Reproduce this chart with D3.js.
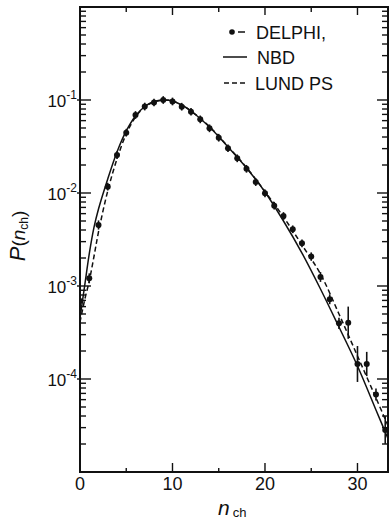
<!DOCTYPE html>
<html>
<head>
<meta charset="utf-8">
<script src="https://cdn.jsdelivr.net/npm/d3@7/dist/d3.min.js"></script>
<style>
  html, body { margin: 0; padding: 0; background: #fff; }
  svg text { font-family: "Liberation Sans", Arial, Helvetica, sans-serif; fill: #111; }
</style>
</head>
<body>
<svg id="chart" width="389" height="525"></svg>
<script>
// Charged multiplicity distribution P(n_ch): DELPHI data, NBD fit and LUND PS.
const nValues = [0,1,2,3,4,5,6,7,8,9,10,11,12,13,14,15,16,17,18,19,20,21,22,23,24,25,26,27,28,29,30,31,32,33];
const delphiP = [6.9e-4,1.21e-3,4.53e-3,0.0117,0.0256,0.0445,0.069,0.085,0.094,0.100,0.0964,0.0847,0.0748,0.0619,0.0496,0.0393,0.0303,0.0236,0.0182,0.0131,0.00993,0.0073,0.00566,0.00407,0.00288,0.00207,0.00125,0.00072,3.97e-4,4.03e-4,1.45e-4,1.45e-4,6.8e-5,2.83e-5];
// multiplicative error (bar runs from P/f to P*f)
const delphiErr = [1.19,1.13,1.12,1.10,1.10,1.10,1.10,1.10,1.10,1.10,1.10,1.10,1.10,1.10,1.10,1.10,1.10,1.10,1.10,1.10,1.10,1.10,1.10,1.10,1.10,1.11,1.13,1.13,1.15,1.49,1.56,1.35,1.16,1.41];

const nbdN = [0,0.5,1,1.5,2,3,4,5,6,7,8,9,10,11,12,14,16,18,20,22,24,26,28,30,32,33.5];
const nbdP = [4.53e-4,1.0e-3,2.21e-3,4.21e-3,6.73e-3,0.01416,0.0276,0.0465,0.0673,0.0851,0.0964,0.100,0.0976,0.0883,0.0762,0.0513,0.0313,0.0186,0.01026,0.0050,0.00226,9.29e-4,3.62e-4,1.38e-4,4.65e-5,2.05e-5];

const lundN = [0,0.5,1,1.5,2,3,4,5,6,7,8,9,10,11,12,14,16,18,20,22,24,26,28,30,32,33.5];
const lundP = [4.10e-4,7.06e-4,1.13e-3,2.05e-3,3.81e-3,0.01052,0.0232,0.0431,0.0656,0.0841,0.0952,0.100,0.0976,0.0883,0.0762,0.0519,0.0316,0.0188,0.01038,0.00552,0.00276,0.001346,5.0e-4,1.77e-4,6.25e-5,2.83e-5];

const yMajorTicks = [1e-1, 1e-2, 1e-3, 1e-4];
const yTickExponents = ["-1", "-2", "-3", "-4"];
const xMajorTicks = [0, 10, 20, 30];
const xMinorTicks = [5, 15, 25];
const legendLabels = ["DELPHI,", "NBD", "LUND PS"];

const svg = d3.select("#chart");
const pLeft = 80, pRight = 388, pTop = 7, pBottom = 472;

const x = d3.scaleLinear().domain([0, 33.3]).range([pLeft, pRight]);
const y = d3.scaleLog().domain([1e-5, 1]).range([pBottom, pTop]);

svg.append("defs").append("clipPath").attr("id", "plotClip")
  .append("rect").attr("x", pLeft).attr("y", pTop).attr("width", pRight - pLeft).attr("height", pBottom - pTop);

const ink = "#111";

// minor ticks on log axis: 2..9 times each decade
const yMinor = [];
[-5, -4, -3, -2, -1].forEach(e => { for (let m = 2; m <= 9; m++) yMinor.push(m * Math.pow(10, e)); });

const ticks = svg.append("g").attr("stroke", ink).attr("stroke-width", 1.4);
// left axis
ticks.append("g").selectAll("line").data(yMinor).join("line")
  .attr("x1", pLeft).attr("x2", pLeft + 6).attr("y1", d => y(d)).attr("y2", d => y(d));
ticks.append("g").selectAll("line").data(yMajorTicks).join("line")
  .attr("x1", pLeft - 3).attr("x2", pLeft + 11).attr("y1", d => y(d)).attr("y2", d => y(d));
// right axis
ticks.append("g").selectAll("line").data(yMinor).join("line")
  .attr("x1", pRight).attr("x2", pRight - 6).attr("y1", d => y(d)).attr("y2", d => y(d));
ticks.append("g").selectAll("line").data(yMajorTicks).join("line")
  .attr("x1", pRight).attr("x2", pRight - 11).attr("y1", d => y(d)).attr("y2", d => y(d));
// bottom axis
ticks.append("g").selectAll("line").data(xMajorTicks.slice(1)).join("line")
  .attr("x1", d => x(d)).attr("x2", d => x(d)).attr("y1", pBottom).attr("y2", pBottom - 9);
ticks.append("g").selectAll("line").data(xMinorTicks).join("line")
  .attr("x1", d => x(d)).attr("x2", d => x(d)).attr("y1", pBottom).attr("y2", pBottom - 4);
// top axis
ticks.append("g").selectAll("line").data(xMajorTicks.slice(1)).join("line")
  .attr("x1", d => x(d)).attr("x2", d => x(d)).attr("y1", pTop).attr("y2", pTop + 8);
ticks.append("g").selectAll("line").data(xMinorTicks).join("line")
  .attr("x1", d => x(d)).attr("x2", d => x(d)).attr("y1", pTop).attr("y2", pTop + 5);

// frame
svg.append("rect").attr("x", pLeft).attr("y", pTop).attr("width", pRight - pLeft).attr("height", pBottom - pTop)
  .attr("fill", "none").attr("stroke", ink).attr("stroke-width", 2);

// y tick labels 10^-k
yMajorTicks.forEach((v, i) => {
  const t = svg.append("text").attr("x", pLeft - 3).attr("y", y(v) + 7)
    .attr("text-anchor", "end").attr("font-size", 17);
  t.append("tspan").text("10");
  t.append("tspan").attr("font-size", 12).attr("dy", -8).text(yTickExponents[i]);
});

// x tick labels
svg.append("g").selectAll("text").data(xMajorTicks).join("text")
  .attr("x", d => x(d)).attr("y", 490).attr("text-anchor", "middle").attr("font-size", 18)
  .text(d => d);

// axis titles
const xt = svg.append("text").attr("x", 218).attr("y", 515).attr("font-size", 21).attr("font-style", "italic");
xt.append("tspan").text("n");
xt.append("tspan").attr("font-size", 13).attr("font-style", "normal").attr("dx", 3).attr("dy", 2).text("ch");

const yt = svg.append("text").attr("transform", "translate(25,236) rotate(-90)")
  .attr("text-anchor", "middle").attr("font-size", 19);
yt.append("tspan").attr("font-style", "italic").attr("font-size", 22).text("P");
yt.append("tspan").text("(");
yt.append("tspan").attr("font-style", "italic").text("n");
yt.append("tspan").attr("font-size", 12).attr("dy", 3).text("ch");
yt.append("tspan").attr("dy", -3).text(")");

// curves
const plot = svg.append("g").attr("clip-path", "url(#plotClip)");
const line = d3.line().x(d => x(d[0])).y(d => y(d[1])).curve(d3.curveCatmullRom.alpha(0.5));
plot.append("path").datum(d3.zip(nbdN, nbdP)).attr("d", line)
  .attr("fill", "none").attr("stroke", ink).attr("stroke-width", 1.5);
plot.append("path").datum(d3.zip(lundN, lundP)).attr("d", line)
  .attr("fill", "none").attr("stroke", ink).attr("stroke-width", 1.5).attr("stroke-dasharray", "5,3");

// data points with error bars
const pts = d3.zip(nValues, delphiP, delphiErr);
plot.append("g").selectAll("line").data(pts).join("line")
  .attr("x1", d => x(d[0])).attr("x2", d => x(d[0]))
  .attr("y1", d => y(d[1] * d[2])).attr("y2", d => y(d[1] / d[2]))
  .attr("stroke", ink).attr("stroke-width", 1.6);
plot.append("g").selectAll("circle").data(pts).join("circle")
  .attr("cx", d => x(d[0])).attr("cy", d => y(d[1])).attr("r", 3).attr("fill", ink);

// legend
const lg = svg.append("g");
lg.append("circle").attr("cx", 232).attr("cy", 32).attr("r", 2.8).attr("fill", ink);
lg.append("line").attr("x1", 238).attr("x2", 245).attr("y1", 32).attr("y2", 32).attr("stroke", ink).attr("stroke-width", 1.5);
lg.append("line").attr("x1", 223).attr("x2", 247).attr("y1", 57).attr("y2", 57).attr("stroke", ink).attr("stroke-width", 1.5);
lg.append("line").attr("x1", 224).attr("x2", 247).attr("y1", 83).attr("y2", 83).attr("stroke", ink).attr("stroke-width", 1.5).attr("stroke-dasharray", "5,3");
const legendY = [38.5, 64, 89.5], legendX = [256, 257, 255];
lg.selectAll("text").data(legendLabels).join("text")
  .attr("x", (d, i) => legendX[i]).attr("y", (d, i) => legendY[i]).attr("font-size", 18).text(d => d);
</script>
</body>
</html>
